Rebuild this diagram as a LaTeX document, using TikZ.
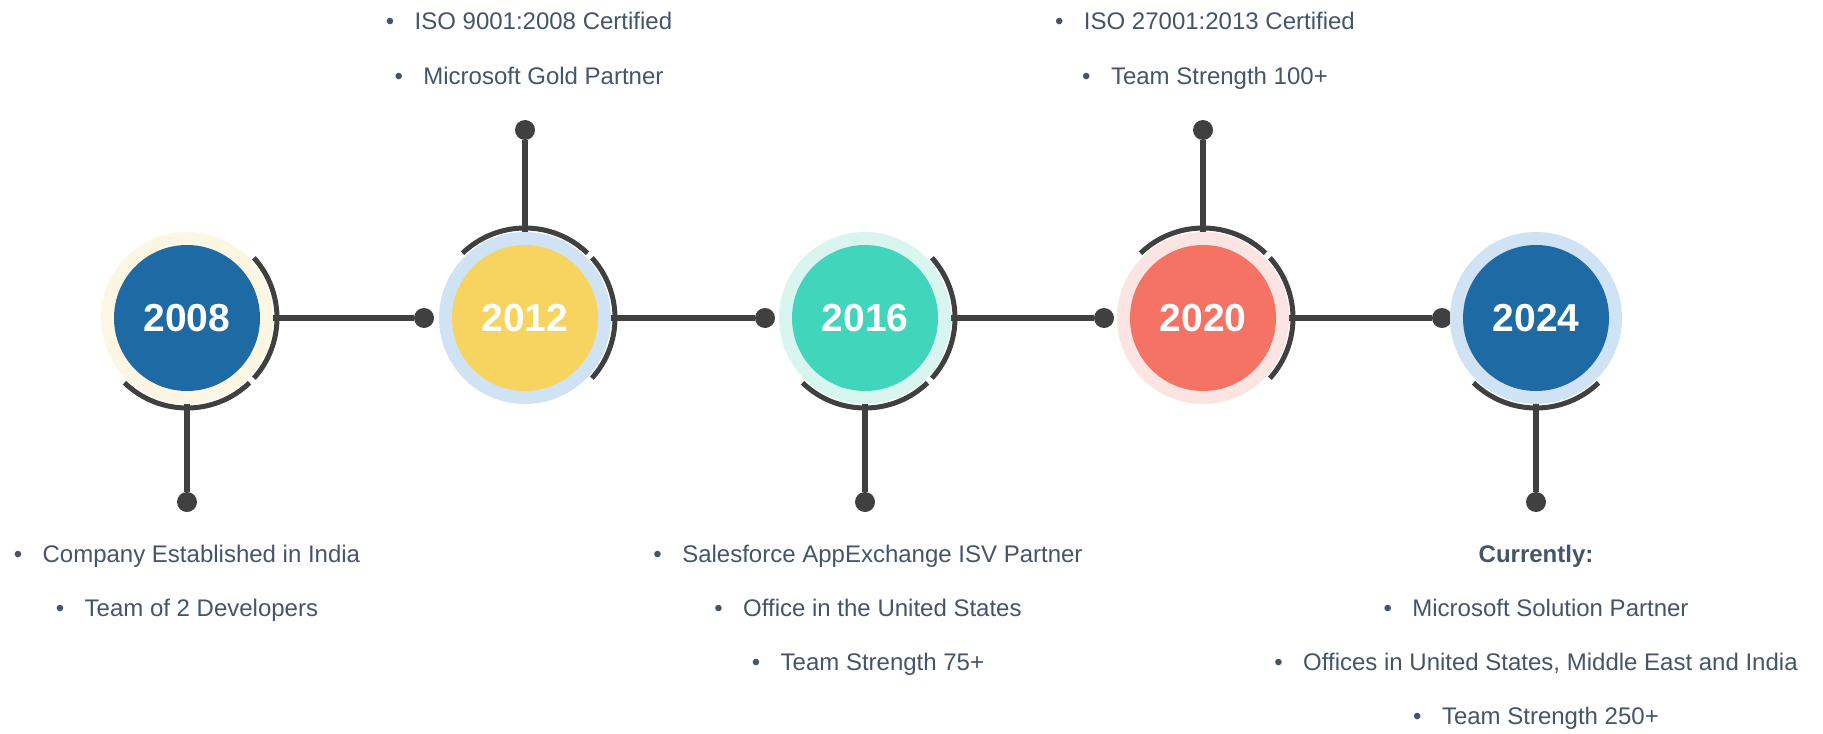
\documentclass[tikz,border=0pt]{standalone}
\usepackage{fontspec}
\setmainfont{Liberation Sans}
\usetikzlibrary{calc}
\definecolor{darkline}{HTML}{404040}
\definecolor{slate}{HTML}{44546A}
\definecolor{deepblue}{HTML}{1D6AA5}
\definecolor{sunny}{HTML}{F7D35F}
\definecolor{mint}{HTML}{41D6BC}
\definecolor{coral}{HTML}{F47365}
\definecolor{cream}{HTML}{FDF6E3}
\definecolor{paleblue}{HTML}{CFE3F4}
\definecolor{palemint}{HTML}{D9F5F0}
\definecolor{palecoral}{HTML}{FCE4E2}
\newcommand{\bul}{\textbullet\hspace{0.85em}}

\begin{document}
\begin{tikzpicture}[x=0.5pt,y=-0.5pt,
    stem/.style={line width=2.7pt,draw=darkline},
    arcpiece/.style={line width=2.5pt,draw=darkline},
    dot/.style={circle,fill=darkline,inner sep=0pt,minimum size=10pt},
    halo/.style={circle,inner sep=0pt,minimum size=86pt},
    year/.style={circle,inner sep=0pt,minimum size=73pt,text=white,font=\fontsize{19.5}{20}\selectfont\bfseries},
    item/.style={anchor=base,text=slate,font=\fontsize{12}{14}\selectfont}]
    \path[use as bounding box] (0,0) rectangle (1823,733);
    \coordinate (c1) at (187,318);
    \coordinate (c2) at (525,318);
    \coordinate (c3) at (865,318);
    \coordinate (c4) at (1203,318);
    \coordinate (c5) at (1536,318);

    % end dots
    \node[dot] (r1) at (424,318) {};
    \node[dot] (r2) at (765,318) {};
    \node[dot] (r3) at (1104,318) {};
    \node[dot] (r4) at (1442,318) {};
    \node[dot] (b1) at (187,502) {};
    \node[dot] (t2) at (525,130) {};
    \node[dot] (b3) at (865,502) {};
    \node[dot] (t4) at (1203,130) {};
    \node[dot] (b5) at (1536,502) {};

    % connectors, the circles hide their inner part
    \foreach \i in {1,...,4} {
        \draw[stem] (c\i) -- (r\i);
    }
    \draw[stem] (c1) -- (b1);
    \draw[stem] (c2) -- (t2);
    \draw[stem] (c3) -- (b3);
    \draw[stem] (c4) -- (t4);
    \draw[stem] (c5) -- (b5);

    \foreach \i/\yr/\ring/\core in {1/2008/cream/deepblue,2/2012/paleblue/sunny,3/2016/palemint/mint,4/2020/palecoral/coral,5/2024/paleblue/deepblue} {
        \node[halo,fill=\ring] (h\i) at (c\i) {};
        \node[year,fill=\core] (y\i) at (c\i) {\yr};
    }

    % arcs round the circles
    \foreach \i in {1,2,3,4} {
        \draw[arcpiece] ([shift={(-42:45pt)}]c\i) arc[start angle=-42,end angle=42,radius=45pt];
    }
    \foreach \i in {1,3,5} {
        \draw[arcpiece] ([shift={(-134:45pt)}]c\i) arc[start angle=-134,end angle=-46,radius=45pt];
    }
    \foreach \i in {2,4} {
        \draw[arcpiece] ([shift={(46:45pt)}]c\i) arc[start angle=46,end angle=134,radius=45pt];
    }

    % texts
    \node[item] (a1) at (187,562) {\bul Company Established in India};
    \node[item] (a2) at (187,616) {\bul Team of 2 Developers};
    \node[item] (b1t) at (529,30) {\bul ISO 9001:2008 Certified};
    \node[item] (b2t) at (529,84) {\bul Microsoft Gold Partner};
    \node[item] (d1) at (868,562) {\bul Salesforce AppExchange ISV Partner};
    \node[item] (d2) at (868,616) {\bul Office in the United States};
    \node[item] (d3) at (868,670) {\bul Team Strength 75+};
    \node[item] (e1) at (1205,30) {\bul ISO 27001:2013 Certified};
    \node[item] (e2) at (1205,84) {\bul Team Strength 100+};
    \node[item,font=\fontsize{12}{14}\selectfont\bfseries] (f0) at (1536,562) {Currently:};
    \node[item] (f1) at (1536,616) {\bul Microsoft Solution Partner};
    \node[item] (f2) at (1536,670) {\bul Offices in United States, Middle East and India};
    \node[item] (f3) at (1536,724) {\bul Team Strength 250+};
\end{tikzpicture}
\end{document}
